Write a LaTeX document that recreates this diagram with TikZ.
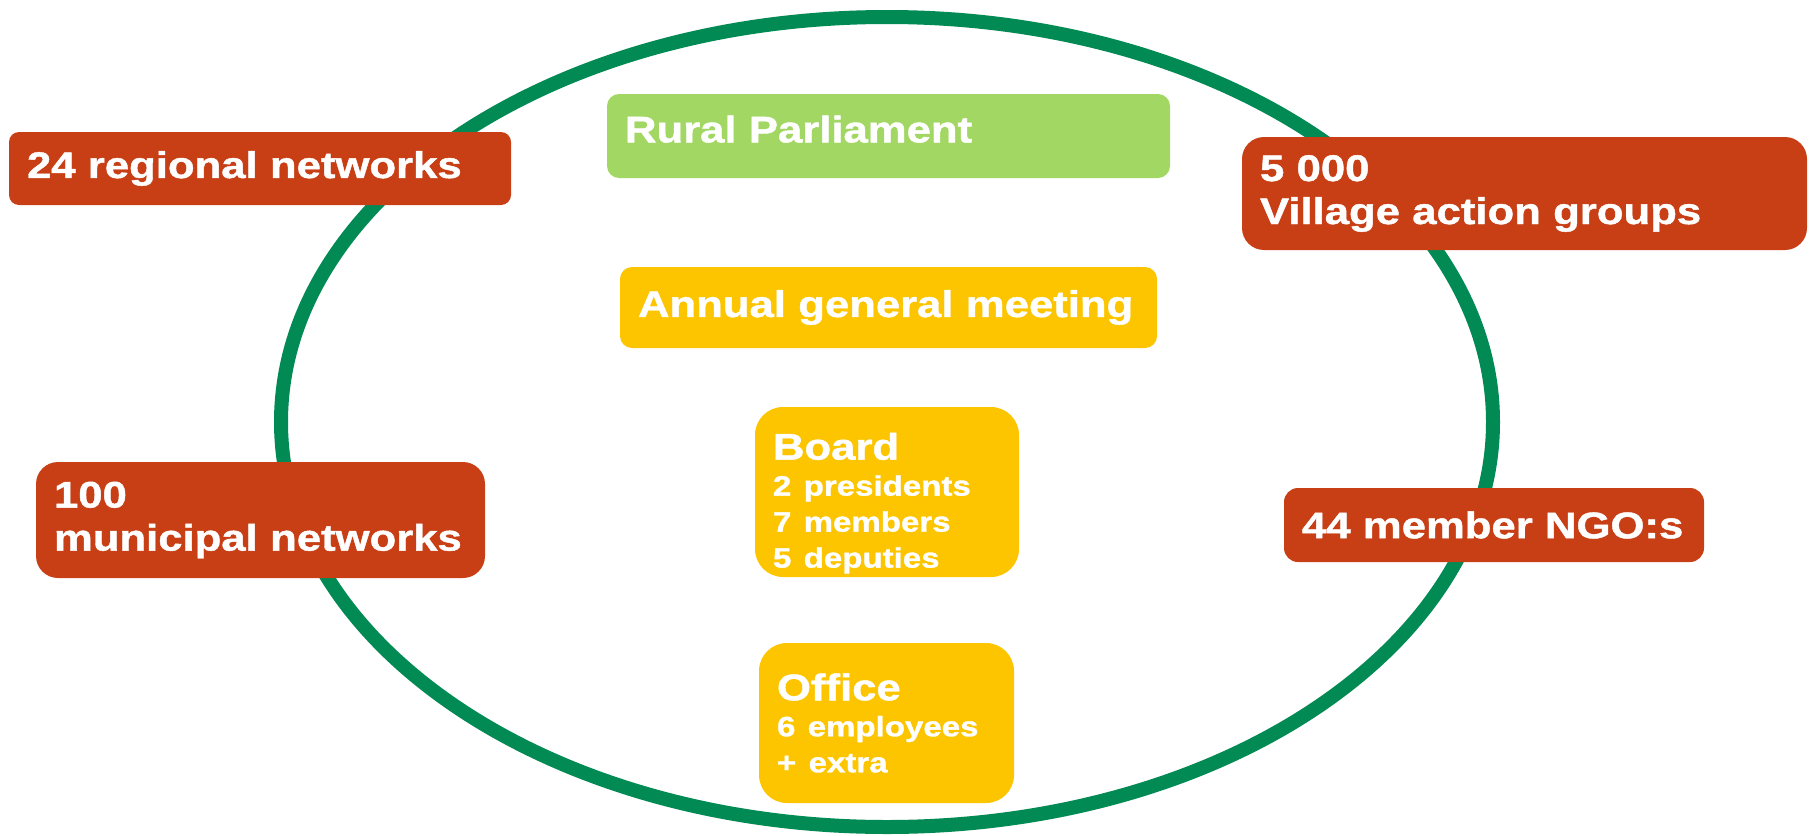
\documentclass[tikz,border=0pt]{standalone}
\usepackage{fontspec}
\setmainfont[FakeStretch=1.18,BoldFeatures={FakeBold=1.2}]{Liberation Sans}
\usepackage{xcolor}
\usepackage{tikz}
\usetikzlibrary{positioning}
\definecolor{ringgreen}{RGB}{2,138,85}
\definecolor{boxred}{RGB}{200,63,22}
\definecolor{boxlime}{RGB}{163,215,100}
\definecolor{boxgold}{RGB}{252,197,0}
\newcommand{\subline}{\fontsize{14}{18}\selectfont}
\tikzset{box/.style={text=white,font=\bfseries\fontsize{18.5}{18}\selectfont,align=left,inner xsep=9pt,inner ysep=0pt},
         redbox/.style={box,fill=boxred},
         limebox/.style={box,fill=boxlime},
         goldbox/.style={box,fill=boxgold},
         ring/.style={draw=ringgreen,line width=7pt}}

\begin{document}
\begin{tikzpicture}[x=0.5pt,y=-0.5pt]
        \useasboundingbox (0,0) rectangle (1809,835);
        \draw [ring] (887,422) ellipse [x radius=303pt,y radius=202.5pt];

        \node[limebox,rounded corners=6pt,text width=263.5pt,minimum height=42pt,text depth=7pt] (rural)at (888.5,136) {Rural Parliament};
        \node[goldbox,rounded corners=6pt,text width=250.5pt,minimum height=40.5pt] (agm)at (888.5,307.5) {Annual general meeting};
        \node[goldbox,rounded corners=14pt,text width=114pt,minimum height=85pt,text height=24.5pt] (board)at (887,492) {Board\\{\subline 2 presidents}\\{\subline 7 members}\\{\subline 5 deputies}};
        \node[goldbox,rounded corners=14pt,text width=109.5pt,minimum height=80pt] (office)at (886.5,723) {Office\\{\subline 6 employees}\\{\subline + extra}};

        \node[redbox,rounded corners=5pt,text width=233pt,minimum height=36.5pt] (regional)at (260,168.5) {24 regional networks};
        \node[redbox,rounded corners=11pt,text width=206.5pt,minimum height=58pt] (municipal)at (260.5,520) {100\\[3.5pt]municipal networks};
        \node[redbox,rounded corners=11pt,text width=264.5pt,minimum height=56.5pt] (village)at (1524.5,193.5) {5 000\\[3.5pt]Village action groups};
        \node[redbox,rounded corners=7pt,text width=192pt,minimum height=37pt] (ngo)at (1494,525) {44 member NGO:s};
    \end{tikzpicture}
\end{document}
